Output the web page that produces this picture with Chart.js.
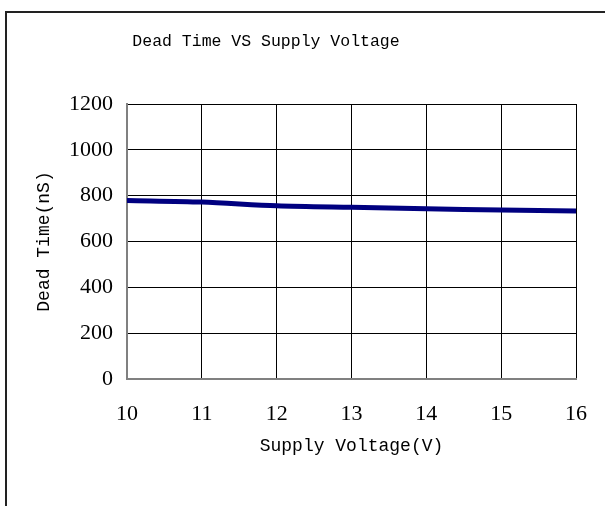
<!DOCTYPE html>
<html>
<head>
<meta charset="utf-8">
<script src="https://cdn.jsdelivr.net/npm/chart.js@4.4.1/dist/chart.umd.min.js"></script>
<style>
    body { margin: 0; background: #fff; }
    #wrap { position: relative; width: 605px; height: 506px; overflow: hidden; }
    #frame {
        position: absolute; left: 5px; top: 11px; width: 700px; height: 600px;
        border-left: 2px solid #222; border-top: 2px solid #222;
    }
    #deadTimeGraph { position: absolute; left: 0; top: 0; }
</style>
</head>
<body>
<div id="wrap">
    <div id="frame"></div>
    <canvas id="deadTimeGraph" width="605" height="506"></canvas>
</div>
<script>
// supply voltage (V) and dead time (nS)
const supplyVoltage = [10, 11, 12, 13, 14, 15, 16];
const deadTime = [779, 772, 756, 749, 743, 737, 733];
const xTicks = [10, 11, 12, 13, 14, 15, 16];
const yTicks = [0, 200, 400, 600, 800, 1000, 1200];
const chartTitle = 'Dead Time VS Supply Voltage';

const monoFont = "'Liberation Mono', 'DejaVu Sans Mono', monospace";
const serifFont = "'Liberation Serif', 'DejaVu Serif', serif";

let points = [];
for (let i = 0; i < supplyVoltage.length; i++) {
    points.push({x: supplyVoltage[i], y: deadTime[i]});
}

// the title in the original sits left of centre, so draw it by hand
const titlePlugin = {
    id: 'offsetTitle',
    afterDraw(chart) {
        let c = chart.ctx;
        c.save();
        c.fillStyle = '#000';
        c.font = "16.5px " + monoFont;
        c.textAlign = 'center';
        c.textBaseline = 'middle';
        c.fillText(chartTitle, 266, 42);
        c.restore();
    }
};

let ctx = document.getElementById('deadTimeGraph').getContext('2d');

let outputGraph = new Chart(ctx, {
    type: 'line',
    data: {
        datasets: [
            {
                label: "Dead Time",
                data: points,
                fill: false,
                tension: 0.3,
                pointRadius: 0,
                borderWidth: 5,
                borderColor: '#000080'
            }
        ]
    },
    options: {
        responsive: false,
        animation: false,
        layout: {
            padding: {left: 0, right: 29, top: 104, bottom: 37}
        },
        plugins: {
            legend: {display: false},
            tooltip: {enabled: false},
            title: {display: false}
        },
        scales: {
            x: {
                type: 'linear',
                min: 10,
                max: 16,
                afterBuildTicks: function(axis) {
                    axis.ticks = xTicks.map(v => ({value: v}));
                },
                afterFit: function(axis) {
                    axis.height = 90;
                    axis.paddingLeft = 0;
                    axis.paddingRight = 0;
                },
                grid: {color: '#000', lineWidth: 1, drawTicks: false},
                border: {color: '#808080', width: 2},
                ticks: {
                    padding: 22,
                    color: '#000',
                    font: {family: serifFont, size: 22},
                    callback: function(value) { return String(value); }
                },
                title: {
                    display: true,
                    text: 'Supply Voltage(V)',
                    color: '#000',
                    font: {family: monoFont, size: 18},
                    padding: 11.5
                }
            },
            y: {
                min: 0,
                max: 1200,
                afterBuildTicks: function(axis) {
                    axis.ticks = yTicks.map(v => ({value: v}));
                },
                afterFit: function(axis) {
                    axis.width = 127;
                    axis.paddingTop = 0;
                    axis.paddingBottom = 0;
                },
                grid: {color: '#000', lineWidth: 1, drawTicks: false},
                border: {color: '#808080', width: 2},
                ticks: {
                    padding: 14,
                    color: '#000',
                    font: {family: serifFont, size: 22},
                    callback: function(value) { return String(value); }
                },
                title: {
                    display: true,
                    text: 'Dead Time(nS)',
                    color: '#000',
                    font: {family: monoFont, size: 18},
                    padding: 33.2
                }
            }
        }
    },
    plugins: [titlePlugin]
});
</script>
</body>
</html>
